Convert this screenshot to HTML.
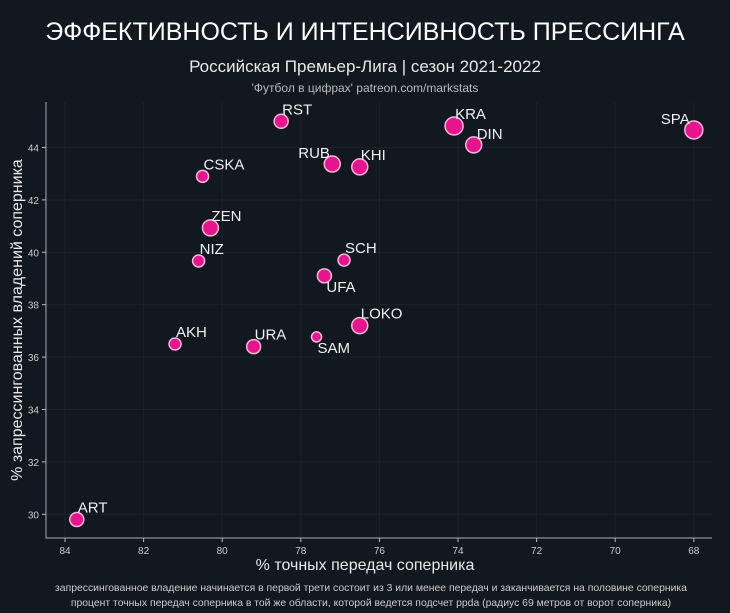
<!DOCTYPE html>
<html><head><meta charset="utf-8"><style>
html,body{margin:0;padding:0;background:#111820;}
svg{display:block;font-family:"Liberation Sans","DejaVu Sans",sans-serif;}
</style></head><body>
<svg id="chart" width="730" height="613" viewBox="0 0 730 613">
<rect width="730" height="613" fill="#111820"/>
<text x="365" y="40" text-anchor="middle" fill="#fff" font-size="25">ЭФФЕКТИВНОСТЬ И ИНТЕНСИВНОСТЬ ПРЕССИНГА</text>
<text x="365" y="72" text-anchor="middle" fill="#e8e8e8" font-size="17">Российская Премьер-Лига | сезон 2021-2022</text>
<text x="365" y="92" text-anchor="middle" fill="#bbb" font-size="12">'Футбол в цифрах' patreon.com/markstats</text>
<g id="grid"></g>
<g id="axes"></g>
<g id="marks"></g>
<text x="365" y="570" text-anchor="middle" fill="#e8e8e8" font-size="16">% точных передач соперника</text>
<text transform="translate(22,320) rotate(-90)" text-anchor="middle" fill="#e8e8e8" font-size="16">% запрессингованных владений соперника</text>
<text x="371" y="591" text-anchor="middle" fill="#ccc" font-size="10.4">запрессингованное владение начинается в первой трети состоит из 3 или менее передач и заканчивается на половине соперника</text>
<text x="371" y="606" text-anchor="middle" fill="#ccc" font-size="10.4">процент точных передач соперника в той же области, которой ведется подсчет ppda (радиус 69 метров от ворот соперника)</text>
</svg>
<script>
const teams=["ART","AKH","URA","SAM","LOKO","UFA","SCH","NIZ","ZEN","CSKA","RST","RUB","KHI","KRA","DIN","SPA"];
const passAcc=[83.7,81.2,79.2,77.6,76.5,77.4,76.9,80.6,80.3,80.5,78.5,77.2,76.5,74.1,73.6,68.0];
const pressed=[29.8,36.5,36.4,36.77,37.2,39.1,39.7,39.67,40.93,42.9,45.0,43.37,43.26,44.82,44.1,44.67];
const sizes=[7,6,7,5,8,7,6,6,8,6,7,8,8,9,8,9];
const xTicks=[84,82,80,78,76,74,72,70,68];
const yTicks=[30,32,34,36,38,40,42,44];
const NS="http://www.w3.org/2000/svg";
const L=46,R=712,T=102,B=538;
const xs=v=>65+(84-v)*39.3;
const ys=v=>147.5-(v-44)*26.2;
function mk(t,a,p){const e=document.createElementNS(NS,t);for(const k in a)e.setAttribute(k,a[k]);p.appendChild(e);return e;}
const grid=document.getElementById('grid'),axes=document.getElementById('axes'),marks=document.getElementById('marks');
xTicks.forEach(v=>{const x=xs(v);
 const g=mk('line',{x1:x,x2:x,y1:T,y2:B,stroke:'#1a222b','stroke-width':1},grid);
 
 
 const t=mk('line',{x1:x,x2:x,y1:B,y2:B+4,stroke:'#bbb'},axes);
 
 
 const l=mk('text',{x:x,y:B+16,'text-anchor':'middle',fill:'#ccc','font-size':10},axes);l.textContent=v;
 
 
});
yTicks.forEach(v=>{const y=ys(v);
 const g=mk('line',{x1:L,x2:R,y1:y,y2:y,stroke:'#1a222b','stroke-width':1},grid);
 
 
 const t=mk('line',{x1:L-4,x2:L,y1:y,y2:y,stroke:'#bbb'},axes);
 
 
 const l=mk('text',{x:L-7,y:y+4,'text-anchor':'end',fill:'#ccc','font-size':10},axes);l.textContent=v;
 
 
});
const ax=mk('path',{d:`M${L},${T}V${B}H${R}`,fill:'none',stroke:'#aab',"stroke-width":1},axes);


const off={RUB:[-34,-6],UFA:[2,16],SAM:[1,16],DIN:[3,-6],SPA:[-33,-6]};
teams.forEach((n,i)=>{const x=xs(passAcc[i]),y=ys(pressed[i]);
 const c=mk('circle',{cx:x,cy:y,r:sizes[i],fill:'#e8138f',stroke:'#f6b8d8','stroke-width':1.5},marks);
 
 
 const o=off[n]||[1,-7];
 const t=mk('text',{x:x+o[0],y:y+o[1],fill:'#f0f0f0','font-size':15},marks);t.textContent=n;
 
 
});
</script>
</body></html>
